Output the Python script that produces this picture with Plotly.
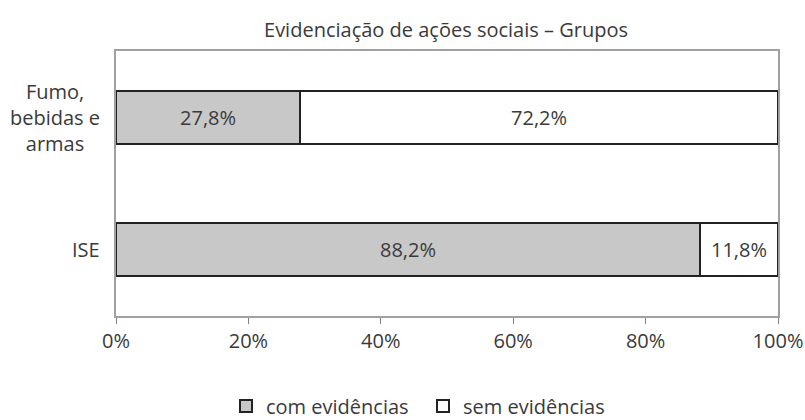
import plotly.graph_objects as go

categories = ["ISE", "Fumo, bebidas e armas"]
category_labels = ["ISE", "Fumo,<br>bebidas e<br>armas"]
com_evid = [88.2, 27.8]
sem_evid = [11.8, 72.2]
x_ticks = [0, 20, 40, 60, 80, 100]
x_ticklabels = ["0%", "20%", "40%", "60%", "80%", "100%"]

FONT = "Open Sans, DejaVu Sans, sans-serif"
TXT = "#3a3a3a"
FS = 20

def fmt(v):
    return f"{v:.1f}%".replace(".", ",")

fig = go.Figure()
fig.add_trace(go.Bar(
    y=categories, x=com_evid, orientation="h", name="com evidências",
    marker=dict(color="#c8c8c8", line=dict(color="#222222", width=2)),
    text=[fmt(v) for v in com_evid], textposition="inside",
    insidetextanchor="middle", textfont=dict(size=FS, color=TXT, family=FONT),
    width=0.4,
))
fig.add_trace(go.Bar(
    y=categories, x=sem_evid, orientation="h", name="sem evidências",
    marker=dict(color="#ffffff", line=dict(color="#222222", width=2)),
    text=[fmt(v) for v in sem_evid], textposition="inside",
    insidetextanchor="middle", textfont=dict(size=FS, color=TXT, family=FONT),
    width=0.4,
))

for cat, lab in zip(categories, category_labels):
    fig.add_annotation(
        x=0, xref="paper", xanchor="right", xshift=-14,
        y=cat, yref="y", text=lab, showarrow=False, align="center",
        font=dict(size=FS, color=TXT, family=FONT),
    )

fig.update_layout(
    width=805, height=420,
    barmode="stack",
    paper_bgcolor="white", plot_bgcolor="white",
    margin=dict(l=116, r=27, t=51, b=104, autoexpand=False),
    title=dict(text="Evidenciação de ações sociais – Grupos",
               x=446 / 805, xref="container", xanchor="center",
               y=1 - 30 / 420, yref="container", yanchor="middle",
               font=dict(size=FS, color=TXT, family=FONT)),
    font=dict(family=FONT, color=TXT),
    showlegend=True,
    legend=dict(orientation="h", x=(226 - 116) / 662, xanchor="left",
                y=-(406 - 316) / 265, yanchor="middle",
                font=dict(size=FS, color=TXT, family=FONT), traceorder="normal",
                itemwidth=30, entrywidth=152),
    uniformtext=dict(minsize=FS, mode="show"),
)
fig.update_xaxes(
    range=[0, 100], tickvals=x_ticks, ticktext=x_ticklabels,
    showgrid=False, zeroline=False,
    showline=True, linecolor="#a0a0a0", linewidth=2, mirror=True,
    ticks="outside", ticklen=6, tickcolor="#808080", tickwidth=1,
    tickfont=dict(size=FS, color=TXT, family=FONT),
)
fig.update_yaxes(
    categoryorder="array", categoryarray=categories,
    range=[-0.5, 1.5],
    showticklabels=False, showgrid=False, zeroline=False,
    showline=True, linecolor="#a0a0a0", linewidth=2, mirror=True, ticks="",
)

fig.write_html(
    "out.html",
    config={"displayModeBar": False},
    post_script="document.body.style.margin='0';document.body.style.padding='0';document.body.style.overflow='hidden';",
)
